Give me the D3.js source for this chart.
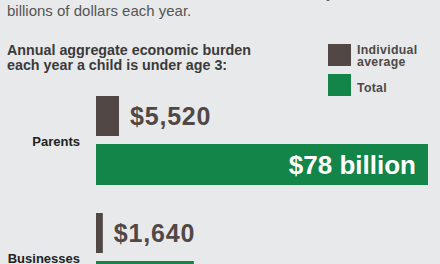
<!DOCTYPE html>
<html lang="en">
<head>
<meta charset="utf-8">
<title>Economic burden</title>
<script src="https://d3js.org/d3.v7.min.js"></script>
<style>
  body { margin: 0; background: #e8e9eb; }
  svg { display: block; font-family: "Liberation Sans", Arial, sans-serif; }
  .intro { fill: #555555; font-size: 15px; }
  .sub { fill: #3a3a3a; font-size: 14.3px; font-weight: bold; }
  .leg { fill: #4d4845; font-size: 12.3px; font-weight: bold; letter-spacing: 0.3px; }
  .cat { fill: #222222; font-size: 13px; font-weight: bold; }
  .indlab { fill: #514845; font-size: 25px; font-weight: bold; letter-spacing: 0.8px; }
  .totlab { fill: #ffffff; font-size: 26px; font-weight: bold; }
</style>
</head>
<body>
<div id="chart"></div>
<script>
// data
var groups = ["Parents", "Businesses", "Taxpayers"];
var individual = [5520, 1640, 631];
var totals = [78, 23, 21];
var indLabels = ["$5,520", "$1,640", "$631"];
var totLabels = ["$78 billion", "$23 billion", "$21 billion"];

var w = 440, h = 264;
var brown = "#514845", green = "#138548";

var svg = d3.select("#chart").append("svg")
  .attr("width", w).attr("height", h);

svg.append("rect").attr("width", w).attr("height", h).attr("fill", "#e8e9eb");

// intro text (cut off at top)
svg.append("text").attr("class", "intro").attr("x", 7).attr("y", -2)
  .style("letter-spacing", "0.5px")
  .text("costs individuals, businesses, and the country");
svg.append("text").attr("class", "intro").attr("x", 7).attr("y", 16)
  .text("billions of dollars each year.");

svg.append("text").attr("class", "sub").attr("x", 7).attr("y", 55)
  .text("Annual aggregate economic burden");
svg.append("text").attr("class", "sub").attr("x", 7).attr("y", 70)
  .text("each year a child is under age 3:");

// legend
var legend = svg.append("g");
legend.append("rect").attr("x", 328).attr("y", 44).attr("width", 23).attr("height", 22).attr("fill", brown);
legend.append("rect").attr("x", 328).attr("y", 74).attr("width", 23).attr("height", 22).attr("fill", green);
legend.append("text").attr("class", "leg").attr("x", 357).attr("y", 54).text("Individual");
legend.append("text").attr("class", "leg").attr("x", 357).attr("y", 66).text("average");
legend.append("text").attr("class", "leg").attr("x", 357).attr("y", 92).text("Total");

// scales
var x0 = 96;
var xInd = d3.scaleLinear().domain([0, 5520]).range([x0, x0 + 23]);
var xTot = d3.scaleLinear().domain([0, 78]).range([x0, 428]);
var yGroup = d3.scaleBand().domain(groups).range([96, 96 + 117 * 3]).paddingInner(0);

var g = svg.selectAll("g.grp").data(groups).enter().append("g").attr("class", "grp")
  .attr("transform", function(d) { return "translate(0," + yGroup(d) + ")"; });

g.append("rect")
  .attr("x", x0).attr("y", 0)
  .attr("width", function(d, i) { return xInd(individual[i]) - x0; })
  .attr("height", 40).attr("fill", brown);

g.append("text").attr("class", "indlab")
  .attr("x", function(d, i) { return xInd(individual[i]) + 11; })
  .attr("y", 29)
  .text(function(d, i) { return indLabels[i]; });

g.append("rect")
  .attr("x", x0).attr("y", 48)
  .attr("width", function(d, i) { return xTot(totals[i]) - x0; })
  .attr("height", 41).attr("fill", green);

g.append("text").attr("class", "totlab")
  .attr("x", function(d, i) { return xTot(totals[i]) - 12; })
  .attr("y", 78).attr("text-anchor", "end")
  .text(function(d, i) { return totLabels[i]; });

g.append("text").attr("class", "cat")
  .attr("x", 80).attr("y", 50).attr("text-anchor", "end")
  .text(function(d) { return d; });
</script>
</body>
</html>
